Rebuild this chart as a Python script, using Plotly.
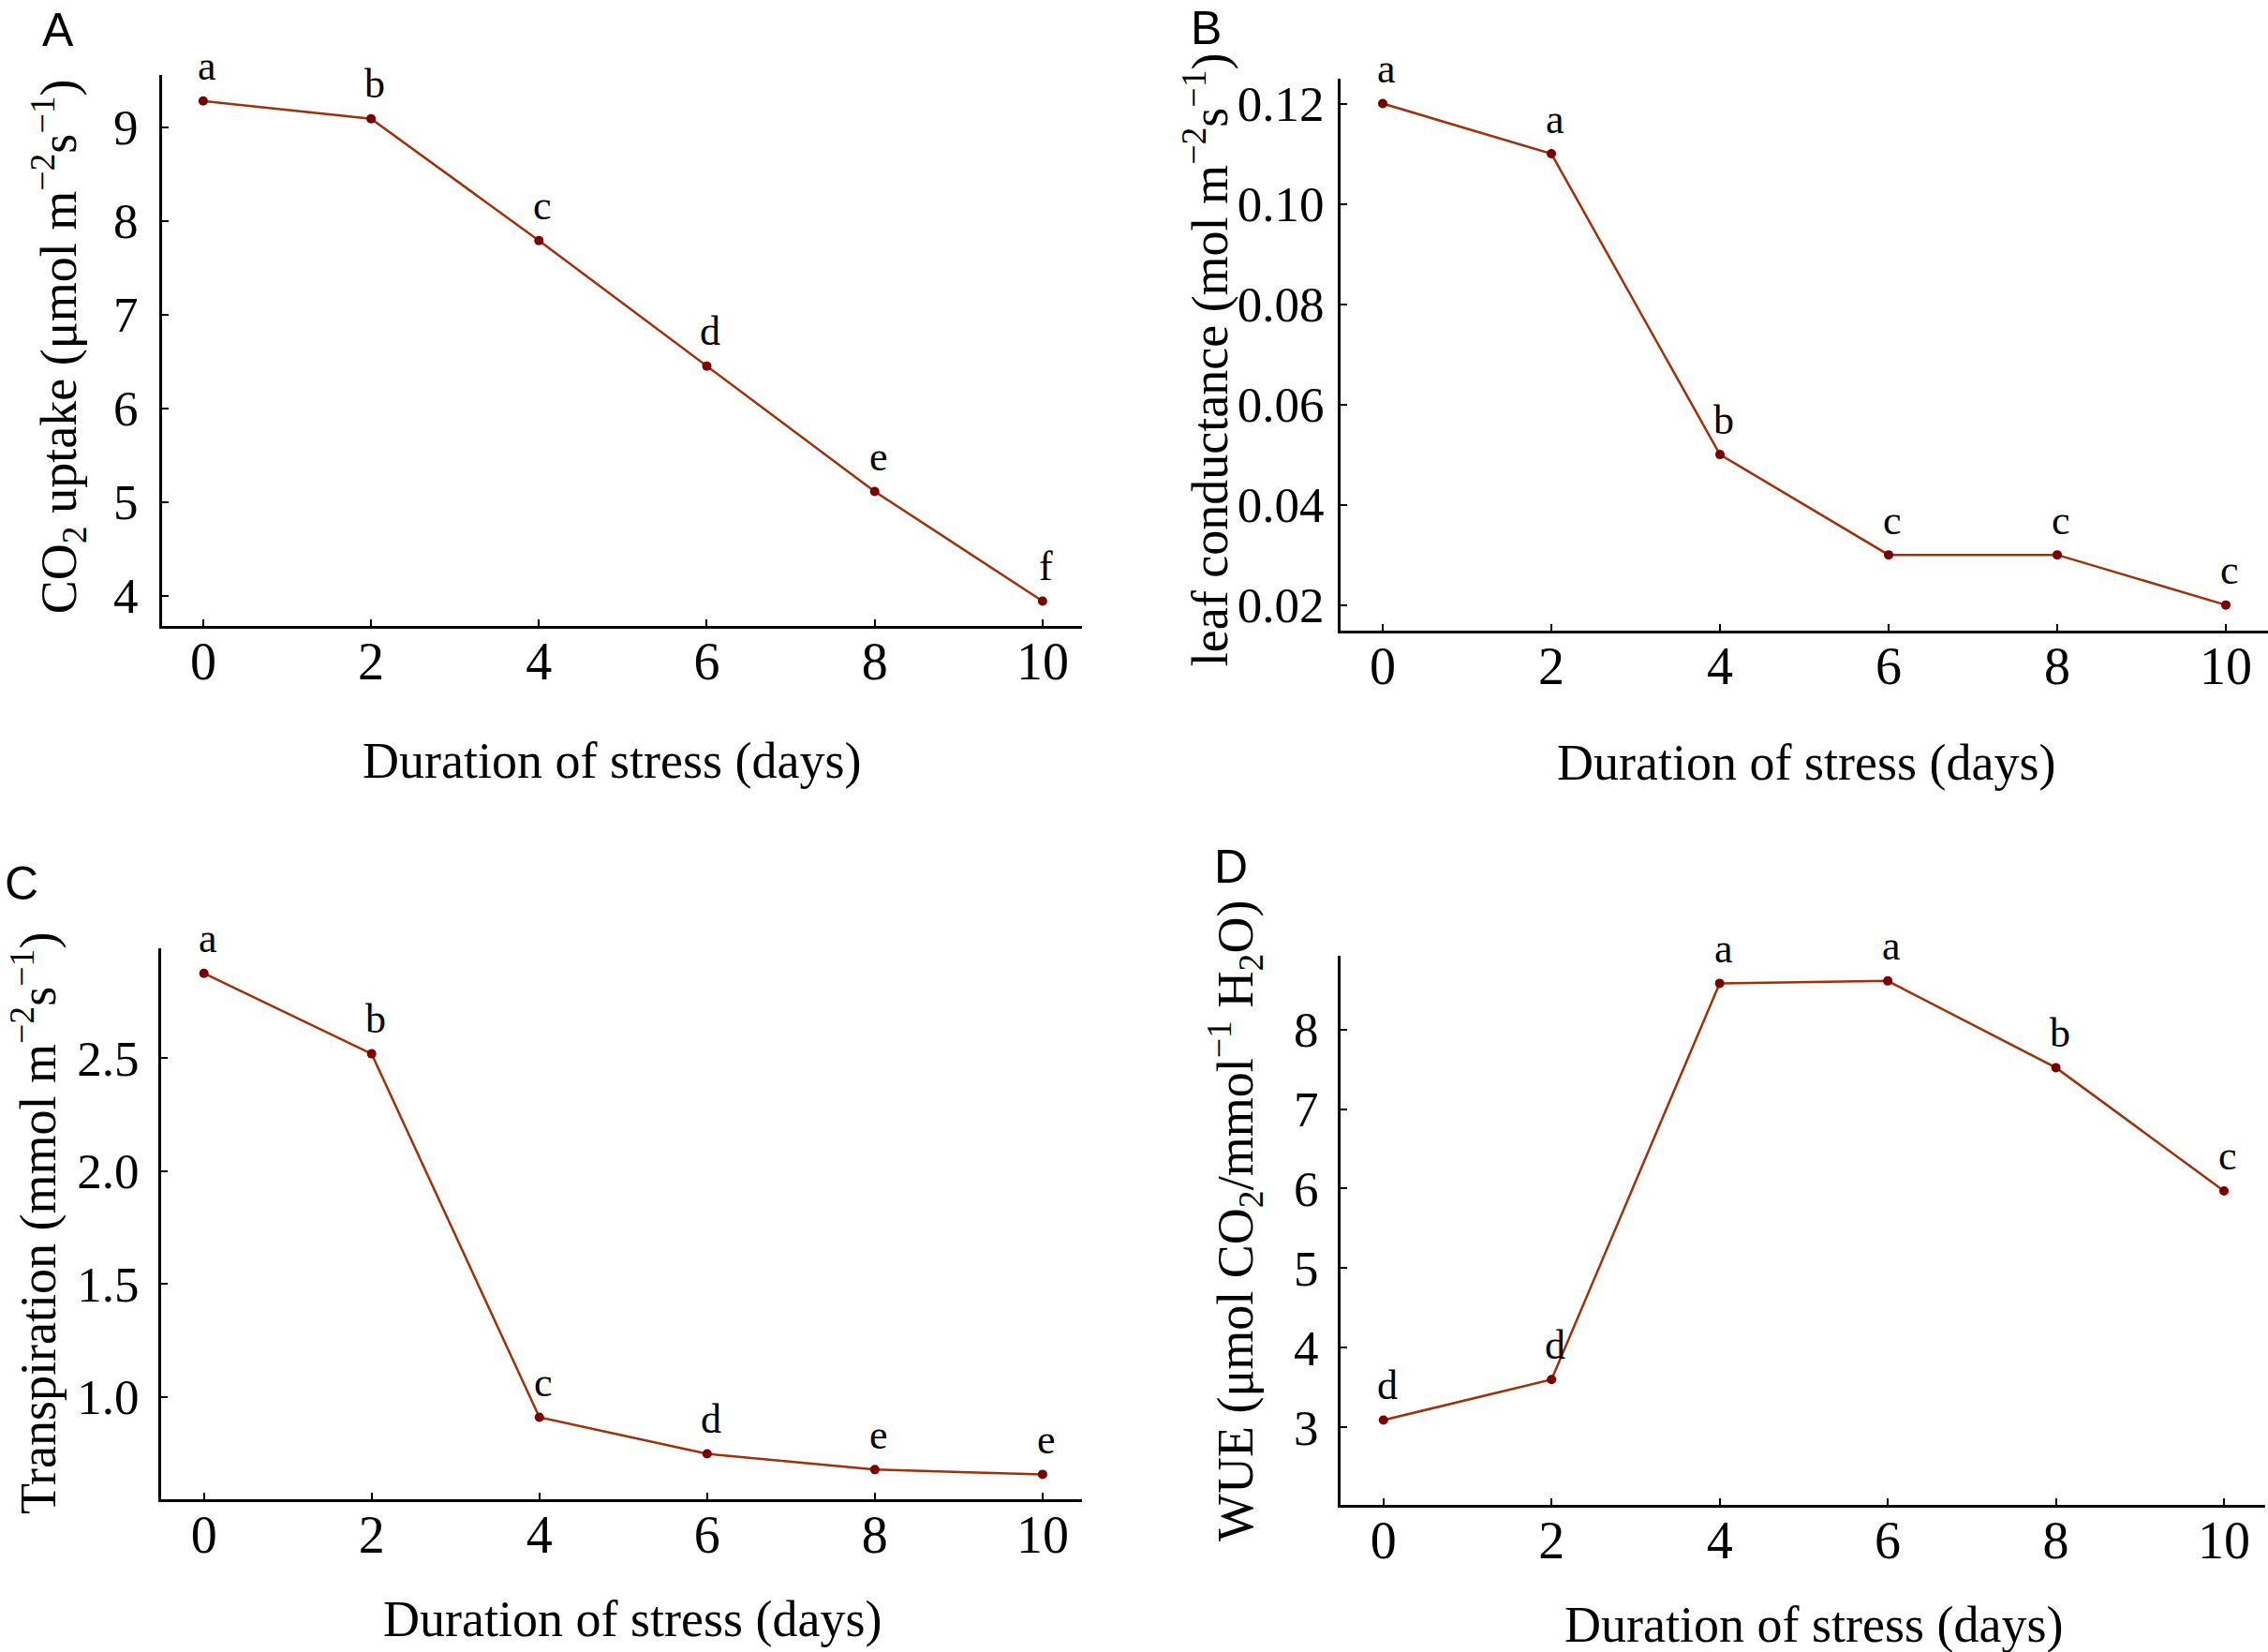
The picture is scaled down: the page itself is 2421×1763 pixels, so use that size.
import plotly.graph_objects as go

W, H = 2421, 1763

days = [0, 2, 4, 6, 8, 10]

co2_uptake = [9.28, 9.09, 7.79, 6.45, 5.11, 3.94]
co2_letters = ["a", "b", "c", "d", "e", "f"]

leaf_cond = [0.120, 0.110, 0.050, 0.030, 0.030, 0.020]
leaf_letters = ["a", "a", "b", "c", "c", "c"]

transp = [2.877, 2.52, 0.909, 0.747, 0.677, 0.656]
transp_letters = ["a", "b", "c", "d", "e", "e"]

wue = [3.09, 3.60, 8.58, 8.61, 7.52, 5.97]
wue_letters = ["d", "d", "a", "a", "b", "c"]

x_ticks = [0, 2, 4, 6, 8, 10]
co2_ticks = [4, 5, 6, 7, 8, 9]
leaf_ticks = [0.02, 0.04, 0.06, 0.08, 0.10, 0.12]
leaf_ticktext = ["0.02", "0.04", "0.06", "0.08", "0.10", "0.12"]
transp_ticks = [1.0, 1.5, 2.0, 2.5]
transp_ticktext = ["1.0", "1.5", "2.0", "2.5"]
wue_ticks = [3, 4, 5, 6, 7, 8]

x_title = "Duration of stress (days)"
y_titles = [
    "CO<sub>2</sub> uptake (μmol m<sup>−2</sup>s<sup>−1</sup>)",
    "leaf conductance (mol m<sup>−2</sup>s<sup>−1</sup>)",
    "Transpiration (mmol m<sup>−2</sup>s<sup>−1</sup>)",
    "WUE (μmol CO<sub>2</sub>/mmol<sup>−1</sup> H<sub>2</sub>O)",
]
panel_labels = ["A", "B", "C", "D"]

SERIF = "Liberation Serif, Times New Roman, serif"
SANS = "Liberation Sans, Arial, sans-serif"
LINE_COLOR = "#a0300a"
MARKER_COLOR = "#7a0000"

# panel boxes in pixels: (x0, x1, ytop, ybottom)
boxes = [
    (173, 1155, 78, 668),
    (1431, 2421, 82, 673),
    (172, 1155, 1012, 1602),
    (1431, 2418, 1020, 1608),
]
xranges = [[-0.49, 10.47], [-0.50, 10.50], [-0.51, 10.47], [-0.51, 10.49]]
yranges = [[3.67, 9.56], [0.0148, 0.125], [0.544, 2.989], [2.02, 8.93]]
series = [co2_uptake, leaf_cond, transp, wue]
letters = [co2_letters, leaf_letters, transp_letters, wue_letters]
yticks = [(co2_ticks, None), (leaf_ticks, leaf_ticktext), (transp_ticks, transp_ticktext), (wue_ticks, None)]
ytick_standoff = [12, 4, 10, 10]

fig = go.Figure()
layout = dict(
    width=W, height=H,
    margin=dict(l=0, r=0, t=0, b=0),
    paper_bgcolor="white", plot_bgcolor="white",
    showlegend=False,
    font=dict(family=SERIF, color="black"),
)
annotations = []

# title positions (pixels)
ytitle_pos = [(62, 369), (1287, 383), (36, 1307), (1318, 1304)]
xtitle_pos = [(653, 812), (1928, 814), (675, 1730), (1936, 1736)]
label_pos = [(62, 30), (1287, 28), (23, 943), (1314, 925)]

for i in range(4):
    n = "" if i == 0 else str(i + 1)
    x0, x1, yt, yb = boxes[i]
    xa = dict(
        domain=[x0 / W, min(x1 / W, 1.0)],
        range=xranges[i],
        anchor="y" + n,
        showline=True, linecolor="black", linewidth=3,
        showgrid=False, zeroline=False,
        ticks="inside", ticklen=7, tickwidth=2, tickcolor="black",
        tickvals=x_ticks,
        ticklabelstandoff=-14,
        tickfont=dict(family=SERIF, size=56, color="black"),
    )
    tv, tt = yticks[i]
    ya = dict(
        domain=[1 - yb / H, 1 - yt / H],
        range=yranges[i],
        anchor="x" + n,
        showline=True, linecolor="black", linewidth=3,
        showgrid=False, zeroline=False,
        ticks="inside", ticklen=7, tickwidth=2, tickcolor="black",
        tickvals=tv,
        ticklabelstandoff=ytick_standoff[i],
        tickfont=dict(family=SERIF, size=53, color="black"),
    )
    if tt is not None:
        ya["ticktext"] = tt
    layout["xaxis" + n] = xa
    layout["yaxis" + n] = ya

    fig.add_trace(go.Scatter(
        x=days, y=series[i], mode="lines+markers",
        line=dict(color=LINE_COLOR, width=2.5),
        marker=dict(color=MARKER_COLOR, size=10),
        xaxis="x" + n, yaxis="y" + n,
    ))

    for xv, yv, lt in zip(days, series[i], letters[i]):
        annotations.append(dict(
            x=xv, y=yv, xref="x" + n, yref="y" + n,
            text=lt, showarrow=False,
            xshift=4, yshift=37, yanchor="middle",
            font=dict(family=SERIF, size=44, color="black"),
        ))

    ytx, yty = ytitle_pos[i]
    annotations.append(dict(
        x=ytx / W, y=1 - yty / H, xref="paper", yref="paper",
        text=y_titles[i], showarrow=False, textangle=-90,
        xanchor="center", yanchor="middle",
        font=dict(family=SERIF, size=54, color="black"),
    ))
    xtx, xty = xtitle_pos[i]
    annotations.append(dict(
        x=xtx / W, y=1 - xty / H, xref="paper", yref="paper",
        text=x_title, showarrow=False,
        xanchor="center", yanchor="middle",
        font=dict(family=SERIF, size=54, color="black"),
    ))
    lx, ly = label_pos[i]
    annotations.append(dict(
        x=lx / W, y=1 - ly / H, xref="paper", yref="paper",
        text=panel_labels[i], showarrow=False,
        xanchor="center", yanchor="middle",
        font=dict(family=SANS, size=50, color="black"),
    ))

layout["annotations"] = annotations
fig.update_layout(**layout)
fig.write_html("out.html")
